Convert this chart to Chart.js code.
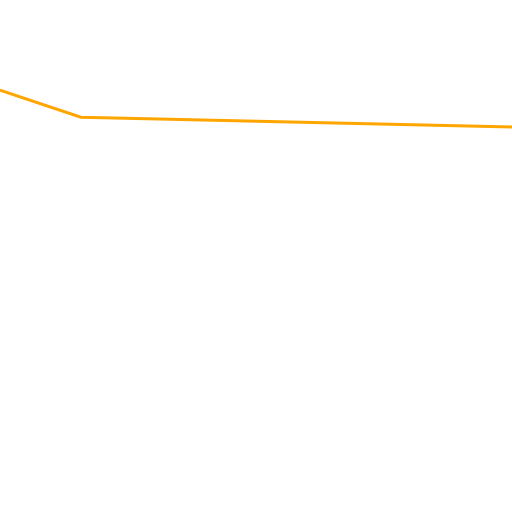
<!DOCTYPE html>
<html>
<head>
<meta charset="utf-8">
<script src="https://cdn.jsdelivr.net/npm/chart.js@4/dist/chart.umd.min.js"></script>
<style>
  html, body { margin: 0; padding: 0; background: #fff; }
  #wrap { width: 512px; height: 512px; }
</style>
</head>
<body>
<div id="wrap"><canvas id="chart"></canvas></div>
<script>
const xValues = [0, 15.8, 100];
const yValues = [82.4, 77.1, 75.2];

const points = xValues.map((x, i) => ({ x, y: yValues[i] }));

new Chart(document.getElementById("chart"), {
  type: "line",
  data: {
    datasets: [
      {
        data: points,
        borderColor: "#ffa500",
        borderWidth: 3,
        pointRadius: 0,
        tension: 0,
        fill: false,
      },
    ],
  },
  options: {
    responsive: true,
    maintainAspectRatio: false,
    animation: false,
    layout: { padding: 0 },
    scales: {
      x: { type: "linear", min: 0, max: 100, display: false },
      y: { min: 0, max: 100, display: false },
    },
    plugins: {
      legend: { display: false },
      tooltip: { enabled: false },
    },
  },
});
</script>
</body>
</html>
